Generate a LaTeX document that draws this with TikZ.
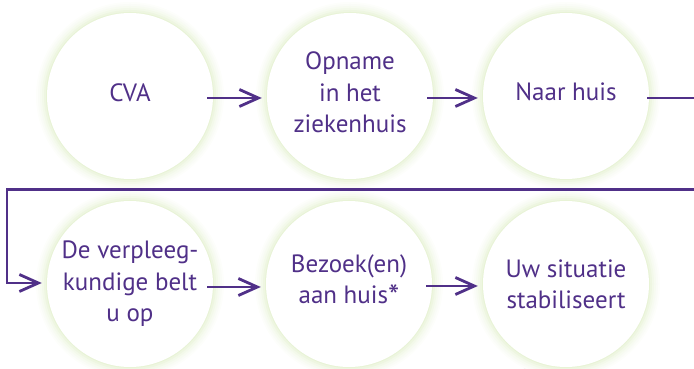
\documentclass[tikz,border=0pt]{standalone}
\usepackage{fontspec}
\setmainfont{PT Sans}
\usetikzlibrary{arrows.meta}
\definecolor{vpurple}{RGB}{80,48,136}
\definecolor{glowgreen}{RGB}{190,220,140}
\newcommand{\bigast}{\raisebox{-4pt}{\fontsize{32}{32}\selectfont *}}
\begin{document}
\begin{tikzpicture}[x=1pt,y=1pt,
  stage/.style={circle, fill=white, minimum size=166pt, inner sep=0pt},
  lbl/.style={anchor=south, inner sep=0pt, text depth=0pt, align=center,
    text=vpurple, font=\fontsize{25}{31.5}\selectfont},
  flow/.style={draw=vpurple, line width=2.8pt, line join=miter,
    -{Straight Barb[length=19pt,width=17pt]}}]
\useasboundingbox (0,0) rectangle (694,369);
\clip (0,0) rectangle (694,369);
\fill[gray!22] (556,-7) ellipse [x radius=40pt, y radius=12pt];
\foreach \x/\y in {130/273,350/273,566/273,130/85,349/85,566/85}
  \foreach \i/\c in {11/3,9/7,7/12,5/18,3/26,1/36}
    \fill[glowgreen!\c] (\x,\y) circle [radius=83pt+\i pt];
\node[stage] (cva) at (130,273) {};
\node[stage] (opn) at (350,273) {};
\node[stage] (naar) at (566,273) {};
\node[stage] (verp) at (130,85) {};
\node[stage] (bez) at (349,85) {};
\node[stage] (uw) at (566,85) {};
\node[lbl] (cvat) at (130,267) {CVA};
\node[lbl] (opnt) at (350,236) {Opname\\in het\\ziekenhuis};
\node[lbl] (naart) at (566,268) {Naar huis};
\node[lbl] (verpt) at (130,47) {De verpleeg-\\kundige belt\\u op};
\node[lbl] (bezt) at (349,65) {Bezoek(en)\\aan huis\bigast};
\node[lbl] (uwt) at (566,60) {Uw situatie\\stabiliseert};
\coordinate (r1) at (720,271);
\coordinate (r2) at (720,179.5);
\coordinate (l1) at (7,179.5);
\coordinate (l2) at (7,86);
\draw[flow] ([xshift=-6pt,yshift=-2pt]cva.east) -- ([xshift=-5pt,yshift=-2pt]opn.west);
\draw[flow] ([xshift=-6pt,yshift=-2pt]opn.east) -- ([xshift=-5pt,yshift=-2pt]naar.west);
\draw[flow] ([xshift=-2pt]naar.east |- r1) -- (r1) -- (r2) -- (l1) -- (l2) -- ([xshift=-5pt]verp.west |- l2);
\draw[flow] ([xshift=-6pt,yshift=-3pt]verp.east) -- ([xshift=-5pt,yshift=-3pt]bez.west);
\draw[flow] ([xshift=-6pt,yshift=-2pt]bez.east) -- ([xshift=-5pt,yshift=-2pt]uw.west);
\end{tikzpicture}
\end{document}
